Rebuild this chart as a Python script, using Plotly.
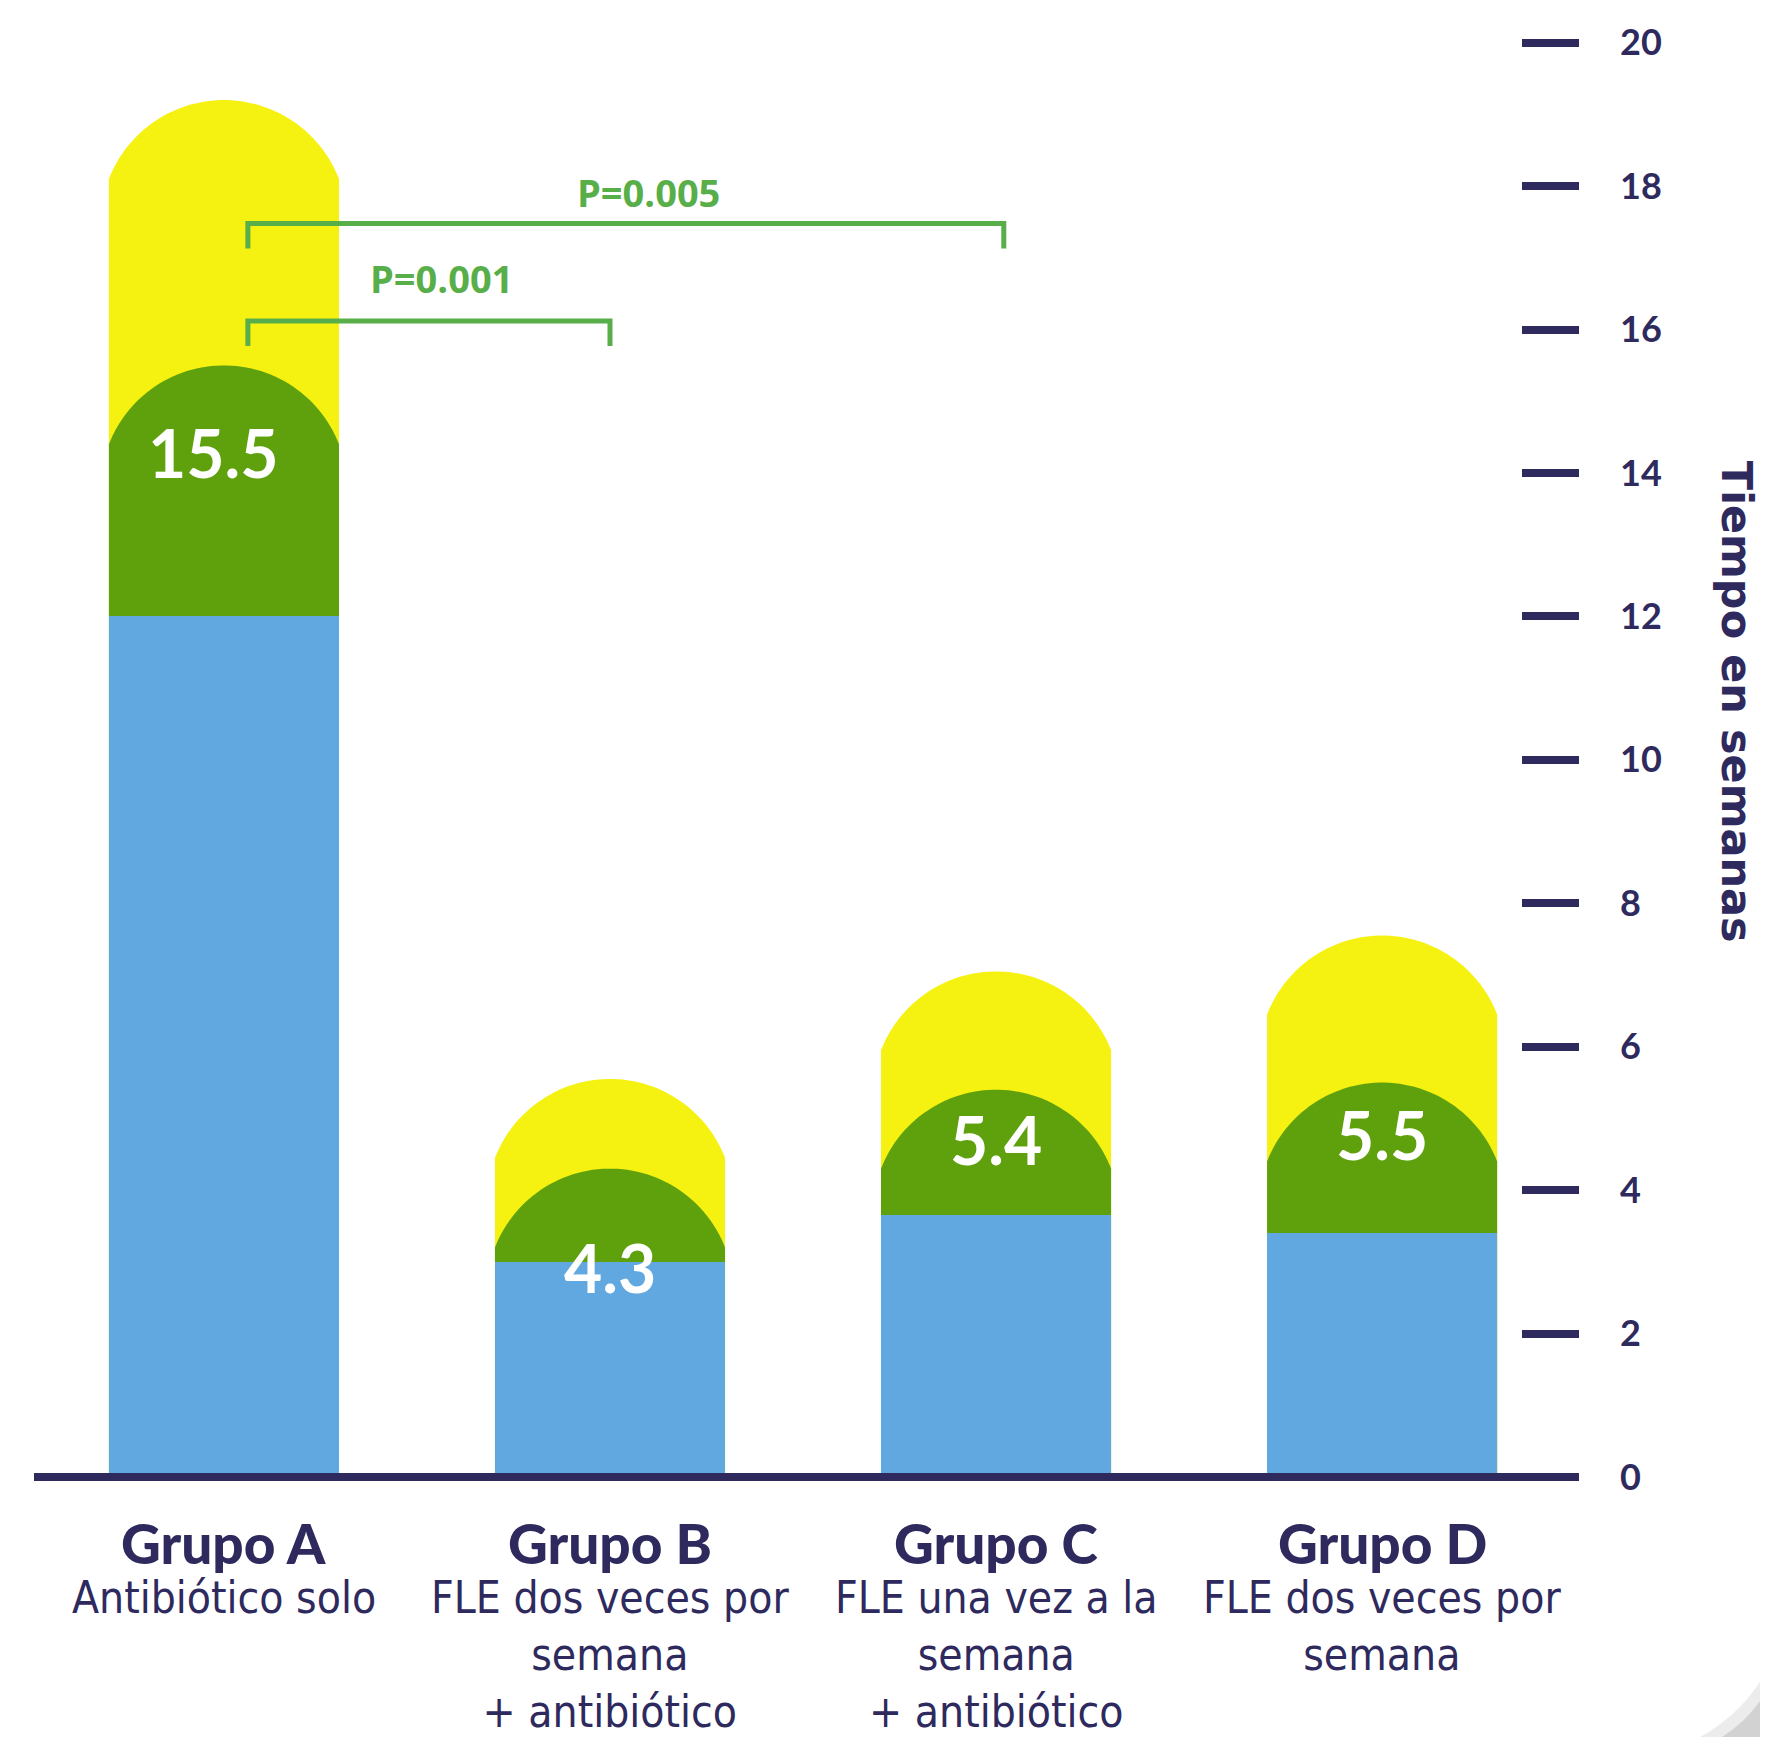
import numpy as np
import plotly.graph_objects as go

# ---------------- data ----------------
groups = ["Grupo A", "Grupo B", "Grupo C", "Grupo D"]
subtitles = ["Antibiótico solo",
             "FLE dos veces por<br>semana<br>+ antibiótico",
             "FLE una vez a la<br>semana<br>+ antibiótico",
             "FLE dos veces por<br>semana"]
lower_weeks = [12.0, 3.0, 3.65, 3.4]      # blue segment top
median_weeks = [15.5, 4.3, 5.4, 5.5]      # green dome peak / label
upper_weeks = [19.2, 5.55, 7.05, 7.55]    # yellow dome peak
median_labels = ["15.5", "4.3", "5.4", "5.5"]
y_ticks = [0, 2, 4, 6, 8, 10, 12, 14, 16, 18, 20]
comparisons = [(0, 1, "P=0.001"), (0, 2, "P=0.005")]
y_title = "Tiempo en semanas"

# ---------------- style ----------------
OFF = 8                       # default page margin of the html body
W, H = 1768 - OFF, 1737 - OFF
X_RANGE = [-0.492, 3.51]
Y_RANGE = [0, 20.4]
PX_PER_WEEK = 71.7
BASE_PAGE_Y = 1477            # page y of value 0
M_L = 34 - OFF
PLOT_W = 1545
PLOT_H = (Y_RANGE[1] - Y_RANGE[0]) * PX_PER_WEEK
M_T = BASE_PAGE_Y - PLOT_H - OFF
M_R, M_B = W - M_L - PLOT_W, H - M_T - PLOT_H
NAVY = "#2e2a5e"
BLUE = "#62a8e0"
GREEN = "#5fa00d"
YELLOW = "#f5f212"
PGREEN = "#58ae48"
BAR_HALF = 0.298        # data units (x)
DOME_H = 1.10           # data units (y)
label_offsets = [1.22, 1.38, 0.70, 0.72]
label_xshift = [-10, 0, 0, 0]
bracket_levels = [16.12, 17.48]
bracket_drop = 0.35
bracket_x_shift = [(0.062, 0.0), (0.062, 0.02)]
p_label_pos = [(0.563, 16.72), (1.10, 17.92)]

px_x = PLOT_W / (X_RANGE[1] - X_RANGE[0])
px_y = PLOT_H / (Y_RANGE[1] - Y_RANGE[0])


def page_paper(px, py):
    """page pixel -> paper coordinates"""
    return (px - OFF - M_L) / PLOT_W, (H - M_B - (py - OFF)) / PLOT_H


def dome_path(xc, peak):
    c = BAR_HALF * px_x
    hp = DOME_H * px_y
    R = (c * c + hp * hp) / (2 * hp)
    d = R - hp
    a = np.arcsin(c / R)
    t = np.linspace(-a, a, 60)
    xs_ = xc + R * np.sin(t) / px_x
    ys_ = (peak - DOME_H) + (R * np.cos(t) - d) / px_y
    pts = [f"{xc - BAR_HALF:.5f},0"]
    pts += [f"{x:.5f},{y:.5f}" for x, y in zip(xs_, ys_)]
    pts += [f"{xc + BAR_HALF:.5f},0"]
    return "M " + " L ".join(pts) + " Z"


xs = list(range(len(groups)))
fig = go.Figure()

fig.add_trace(go.Bar(x=xs, y=lower_weeks, width=2 * BAR_HALF,
                     marker=dict(color=BLUE, line=dict(width=0)),
                     hoverinfo="skip", showlegend=False))

shapes = []
for i in xs:
    shapes.append(dict(type="path", path=dome_path(i, upper_weeks[i]), xref="x", yref="y",
                       fillcolor=YELLOW, line=dict(width=0), layer="below"))
for i in xs:
    shapes.append(dict(type="path", path=dome_path(i, median_weeks[i]), xref="x", yref="y",
                       fillcolor=GREEN, line=dict(width=0), layer="below"))

# baseline (paper refs so it is not clipped at the plot edge)
shapes.append(dict(type="line", xref="paper", yref="paper", x0=0, x1=1, y0=0, y1=0,
                   line=dict(color=NAVY, width=8), layer="above"))

# significance brackets
for (a, b, _), lvl, (sa, sb) in zip(comparisons, bracket_levels, bracket_x_shift):
    xa, xb = a + sa, b + sb
    shapes.append(dict(type="path", xref="x", yref="y",
                       path=f"M {xa},{lvl - bracket_drop} L {xa},{lvl} L {xb},{lvl} L {xb},{lvl - bracket_drop}",
                       line=dict(color=PGREEN, width=5), layer="above"))

# page curl in bottom-right corner
c1 = page_paper(1700, 1737); c2 = page_paper(1768, 1668); c3 = page_paper(1768, 1737)
c4 = page_paper(1745, 1712)
shapes.append(dict(type="path", xref="paper", yref="paper",
                   path=f"M {c1[0]},{c1[1]} Q {c4[0]},{c4[1]} {c2[0]},{c2[1]} L {c3[0]},{c3[1]} Z",
                   fillcolor="#ececec", line=dict(width=0), layer="above"))
d1 = page_paper(1722, 1737); d2 = page_paper(1768, 1688); d4 = page_paper(1752, 1718)
shapes.append(dict(type="path", xref="paper", yref="paper",
                   path=f"M {d1[0]},{d1[1]} Q {d4[0]},{d4[1]} {d2[0]},{d2[1]} L {c3[0]},{c3[1]} Z",
                   fillcolor="#d2d2d2", line=dict(width=0), layer="above"))

annotations = []
gy = page_paper(0, 1543)[1]
sy = page_paper(0, 1571)[1]
for i in xs:
    annotations.append(dict(x=i, y=median_weeks[i] - label_offsets[i], xref="x", yref="y",
                            text=median_labels[i], showarrow=False, xshift=label_xshift[i],
                            font=dict(family="Lato, Open Sans, sans-serif", size=66,
                                      color="white", weight="bold"),
                            xanchor="center", yanchor="middle"))
    annotations.append(dict(x=i, y=gy, xref="x", yref="paper", text=groups[i], showarrow=False,
                            font=dict(family="Lato, Open Sans, sans-serif", size=55,
                                      color=NAVY, weight=900),
                            xanchor="center", yanchor="middle"))
    annotations.append(dict(x=i, y=sy, xref="x", yref="paper", text=subtitles[i], showarrow=False,
                            font=dict(family="Liberation Sans Narrow, DejaVu Sans Condensed, sans-serif",
                                      size=44, color=NAVY),
                            xanchor="center", yanchor="top", borderpad=0, align="center"))

for (a, b, txt), (lx, ly) in zip(comparisons, p_label_pos):
    annotations.append(dict(x=lx, y=ly, xref="x", yref="y", text=txt, showarrow=False,
                            font=dict(family="Liberation Sans Narrow, Open Sans, sans-serif",
                                      size=38, color=PGREEN, weight="bold"),
                            xanchor="center", yanchor="middle"))

tx, ty = page_paper(1737, 702)
annotations.append(dict(x=tx, y=ty, xref="paper", yref="paper", text=y_title, textangle=90,
                        showarrow=False,
                        font=dict(family="DejaVu Sans, sans-serif", size=43, color=NAVY,
                                  weight="bold"),
                        xanchor="center", yanchor="middle"))

fig.update_layout(
    width=W, height=H,
    margin=dict(l=M_L, r=M_R, t=M_T, b=M_B, pad=0),
    paper_bgcolor="white", plot_bgcolor="white",
    shapes=shapes, annotations=annotations,
    bargap=0, showlegend=False,
    xaxis=dict(range=X_RANGE, visible=False, fixedrange=True),
    yaxis=dict(range=Y_RANGE, side="right", tickvals=y_ticks,
               ticks="inside", ticklen=57, tickwidth=8, tickcolor=NAVY,
               ticklabelstandoff=40,
               tickfont=dict(family="Lato, Open Sans, sans-serif", size=36, color=NAVY,
                             weight="bold"),
               showgrid=False, zeroline=False, showline=False, fixedrange=True),
)

fig.write_html("out.html")
